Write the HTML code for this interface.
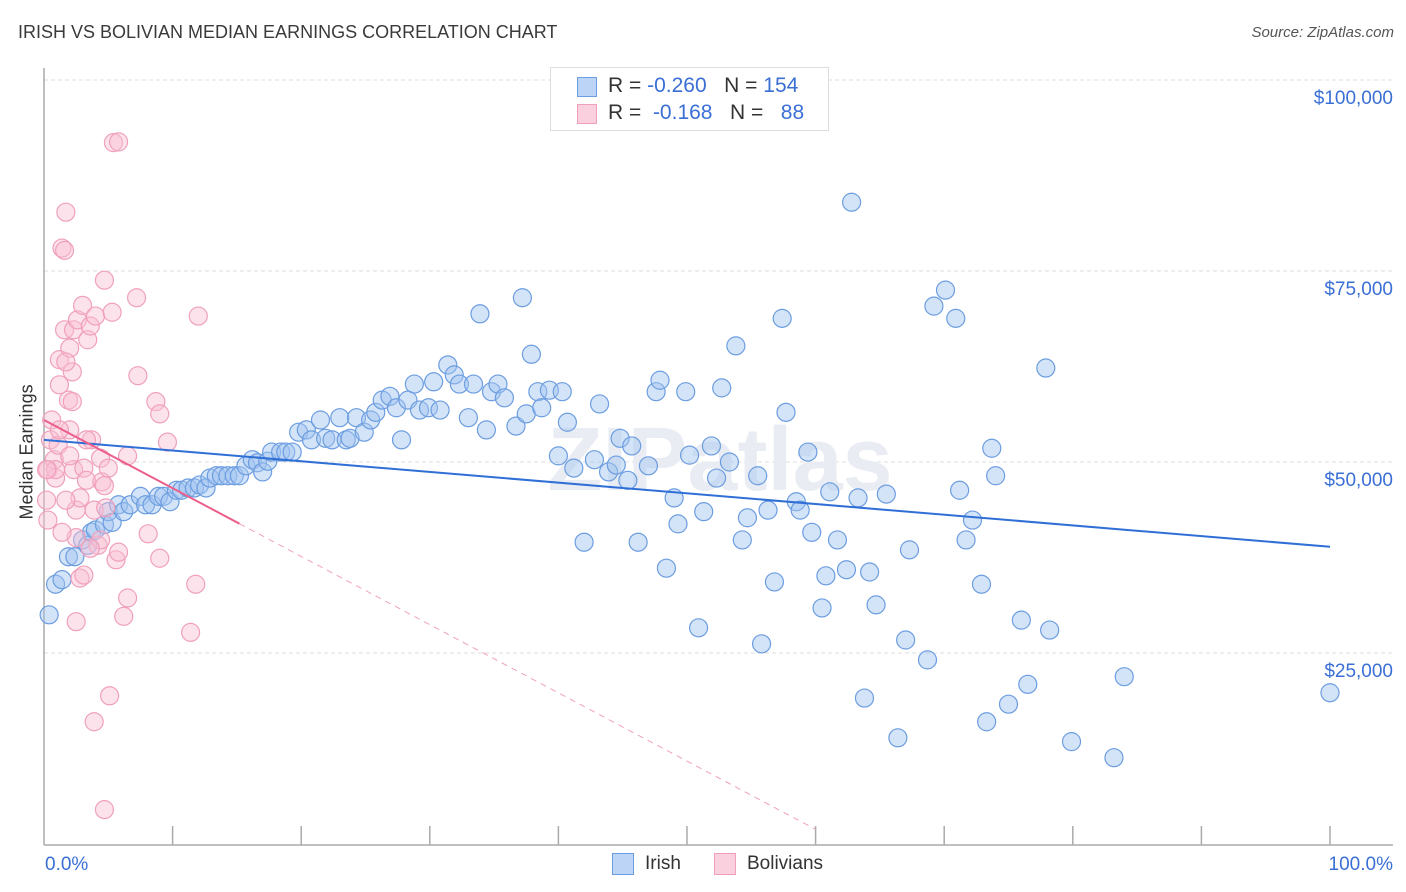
<!DOCTYPE html>
<html><head><meta charset="utf-8"><style>
body{margin:0;background:#fff;font-family:"Liberation Sans",sans-serif;}
#wrap{position:relative;width:1406px;height:892px;overflow:hidden;}
.t{position:absolute;white-space:nowrap;}
</style></head><body>
<div id="wrap">
<div class="t" style="left:18px;top:22px;font-size:18px;color:#3a3a3a;">IRISH VS BOLIVIAN MEDIAN EARNINGS CORRELATION CHART</div>
<div class="t" style="right:12px;top:24px;font-size:15px;color:#555;font-style:italic;">Source: ZipAtlas.com</div>
<div class="t" style="left:-38px;top:444px;font-size:18px;color:#333;transform:rotate(-90deg);width:130px;text-align:center;">Median Earnings</div>
<svg id="svg" width="1406" height="892" style="position:absolute;left:0;top:0;"></svg>
<div style="position:absolute;left:550px;top:67px;width:277px;height:62px;border:1px solid #ddd;background:#fff;">
 <div style="position:absolute;left:26px;top:9px;width:18px;height:18px;background:#bcd4f6;border:1px solid #6c9de0;"></div>
 <div class="t" style="left:57px;top:6px;font-size:21px;color:#333;">R = <span style="color:#3a6fd6">-0.260</span>&nbsp;&nbsp;&nbsp;N = <span style="color:#3a6fd6">154</span></div>
 <div style="position:absolute;left:26px;top:36px;width:18px;height:18px;background:#fbd0de;border:1px solid #f0a0bc;"></div>
 <div class="t" style="left:57px;top:33px;font-size:21px;color:#333;">R = &nbsp;<span style="color:#3a6fd6">-0.168</span>&nbsp;&nbsp;&nbsp;N = &nbsp;&nbsp;<span style="color:#3a6fd6">88</span></div>
</div>
<div style="position:absolute;left:612px;top:853px;width:20px;height:20px;background:#bcd4f6;border:1px solid #6c9de0;"></div>
<div class="t" style="left:645px;top:853px;font-size:19px;color:#333;">Irish</div>
<div style="position:absolute;left:714px;top:853px;width:20px;height:20px;background:#fbd0de;border:1px solid #f0a0bc;"></div>
<div class="t" style="left:747px;top:853px;font-size:19px;color:#333;">Bolivians</div>
</div>
<script>
const yTicks=[25000,50000,75000,100000];
const yTickLabels=["$25,000","$50,000","$75,000","$100,000"];
const xTickLabels=["0.0%","100.0%"];
const irishX=[0.4,0.9,1.4,1.9,2.4,3.0,3.4,3.7,4.0,4.7,5.0,5.3,5.8,6.2,6.7,7.5,7.9,8.4,8.9,9.3,9.8,10.3,10.7,11.2,11.7,12.1,12.6,12.9,13.4,13.8,14.3,14.8,15.2,15.7,16.2,16.6,17.0,17.4,17.7,18.4,18.8,19.3,19.8,20.4,20.8,21.5,21.9,22.4,23.0,23.5,23.8,24.3,24.9,25.4,25.8,26.3,26.9,27.4,27.8,28.3,28.8,29.2,29.9,30.3,30.8,31.4,31.9,32.3,33.0,33.4,33.9,34.4,34.8,35.3,35.8,36.7,37.2,37.5,37.9,38.4,38.7,39.3,40.0,40.3,40.7,41.2,42.0,42.8,43.2,43.9,44.5,44.8,45.4,45.7,46.2,47.0,47.6,47.9,48.4,49.0,49.3,49.9,50.2,50.9,51.3,51.9,52.3,52.7,53.3,53.8,54.3,54.7,55.5,55.8,56.3,56.8,57.4,57.7,58.5,58.8,59.4,59.7,60.5,60.8,61.1,61.7,62.4,62.8,63.3,63.8,64.2,64.7,65.5,66.4,67.0,67.3,68.7,69.2,70.1,70.9,71.2,71.7,72.2,72.9,73.3,73.7,74.0,75.0,76.0,76.5,77.9,78.2,79.9,83.2,84.0,100.0];
const irishY=[30.0,34.0,34.6,37.6,37.6,39.8,39.1,40.8,41.1,41.8,43.5,42.1,44.4,43.5,44.4,45.5,44.4,44.4,45.5,45.5,44.8,46.3,46.3,46.6,46.6,47.0,46.6,47.9,48.2,48.2,48.2,48.2,48.2,49.5,50.3,49.9,48.7,50.1,51.3,51.3,51.3,51.3,53.9,54.2,52.9,55.5,53.1,52.9,55.8,52.9,53.1,55.8,53.9,55.5,56.5,58.1,58.6,57.1,52.9,58.1,60.2,56.8,57.1,60.5,56.8,62.7,61.4,60.2,55.8,60.2,69.4,54.2,59.2,60.2,58.4,54.7,71.5,56.3,64.1,59.2,57.1,59.4,50.8,59.2,55.2,49.2,39.5,50.3,57.6,48.7,49.6,53.1,47.6,52.1,39.5,49.5,59.2,60.7,36.1,45.3,41.9,59.2,50.9,28.3,43.5,52.1,47.9,59.7,50.0,65.2,39.8,42.7,48.2,26.2,43.7,34.3,68.8,56.5,44.8,43.7,51.3,40.8,30.9,35.1,46.1,39.8,35.9,84.0,45.3,19.1,35.6,31.3,45.8,13.9,26.7,38.5,24.1,70.4,72.5,68.8,46.3,39.8,42.4,34.0,16.0,51.8,48.2,18.3,29.3,20.9,62.3,28.0,13.4,11.3,21.9,19.8];
const bolX=[0.2,0.3,0.5,0.6,0.8,0.9,1.1,1.2,1.2,1.4,1.6,1.6,1.7,1.9,2.0,2.0,2.2,2.2,2.3,2.3,2.5,2.5,2.5,2.6,2.8,2.8,3.0,3.1,3.3,3.4,3.6,3.7,3.9,4.0,4.2,4.4,4.4,4.5,4.7,4.7,4.8,5.0,5.1,5.3,5.4,5.8,5.6,5.8,6.5,6.2,6.5,7.2,7.3,8.1,8.7,9.0,9.0,9.6,11.4,11.8,12.0,4.7,3.9,0.9,1.4,2.0,1.7,1.7,3.6,3.1,1.2,3.3,0.2,0.3];
const bolY=[45.0,49.0,52.9,55.5,50.3,47.9,52.2,60.1,63.4,78.0,77.7,67.3,82.7,58.1,54.2,64.9,61.8,57.9,49.0,67.3,43.7,40.1,29.1,68.6,34.8,45.3,70.5,49.2,47.6,66.0,67.8,52.9,43.7,69.1,39.1,50.5,39.8,47.4,46.9,73.8,44.0,49.2,19.4,69.6,91.8,91.9,37.2,38.2,32.2,29.8,50.8,71.5,61.3,40.6,57.9,56.3,37.4,52.6,27.7,34.0,69.1,4.5,16.0,49.0,40.8,50.8,63.1,45.0,38.7,35.2,54.2,52.9,49.0,42.4];
const irishTrend=[52.9,38.9];
const bolTrend=[55.5,-0.893];
const X0=44,X1=1330,Y0=844,PXK=7.64;
const sx=v=>X0+(X1-X0)*v/100;
const sy=k=>Y0-k*PXK;
const NS="http://www.w3.org/2000/svg";
const svg=document.getElementById('svg');
function mk(tag,attrs){const e=document.createElementNS(NS,tag);for(const k in attrs)e.setAttribute(k,attrs[k]);svg.appendChild(e);return e;}
yTicks.forEach((t,i)=>{
 const y=sy(t/1000);
 const g=mk('line',{x1:44,x2:1393,y1:y,y2:y,stroke:'#ddd','stroke-dasharray':'4,3'});
 
 
 const tx=mk('text',{x:1393,y:y+24,'text-anchor':'end','font-size':19,fill:'#3a6fd6','font-family':'Liberation Sans, sans-serif'});
 tx.textContent=yTickLabels[i];
 
 
});
const ax=mk('line',{x1:44,x2:1393,y1:845,y2:845,stroke:'#aaa','stroke-width':1.5});


const ay=mk('line',{x1:44,x2:44,y1:68,y2:845,stroke:'#aaa','stroke-width':1.5});


for(let i=1;i<=10;i++){const x=sx(i*10);const tk=mk('line',{x1:x,x2:x,y1:826,y2:845,stroke:'#aaa','stroke-width':1.5});
 
 }
[[0,'start',45],[100,'end',1393]].forEach((d,i)=>{const t=mk('text',{x:d[2],y:870,'text-anchor':d[1],'font-size':19,fill:'#3a6fd6','font-family':'Liberation Sans, sans-serif'});t.textContent=xTickLabels[i];
 
 });
const wm=mk('text',{x:720,y:490,'text-anchor':'middle','font-size':90,fill:'#e9edf3','font-family':'Liberation Sans, sans-serif','font-weight':'bold'});
wm.textContent='ZIPatlas';


irishX.forEach((x,i)=>{const c=mk('circle',{cx:sx(x),cy:sy(irishY[i]),r:9,fill:'rgba(160,196,240,0.45)',stroke:'#6c9de0','stroke-width':1.2});
 
 });
bolX.forEach((x,i)=>{const c=mk('circle',{cx:sx(x),cy:sy(bolY[i]),r:9,fill:'rgba(248,190,210,0.45)',stroke:'#f0a0bc','stroke-width':1.2});
 
 });
const tl=mk('line',{x1:sx(0),y1:sy(irishTrend[0]),x2:sx(100),y2:sy(irishTrend[1]),stroke:'#2f6fd6','stroke-width':2});


const b=x=>bolTrend[0]+bolTrend[1]*x;
const pl=mk('line',{x1:sx(0),y1:sy(b(0)),x2:sx(15.2),y2:sy(b(15.2)),stroke:'#ec5f8a','stroke-width':2});


const pd=mk('line',{x1:sx(15.2),y1:sy(b(15.2)),x2:sx(60),y2:sy(b(60)),stroke:'#f0a0bc','stroke-width':1,'stroke-dasharray':'6,5'});


</script>
</body></html>
